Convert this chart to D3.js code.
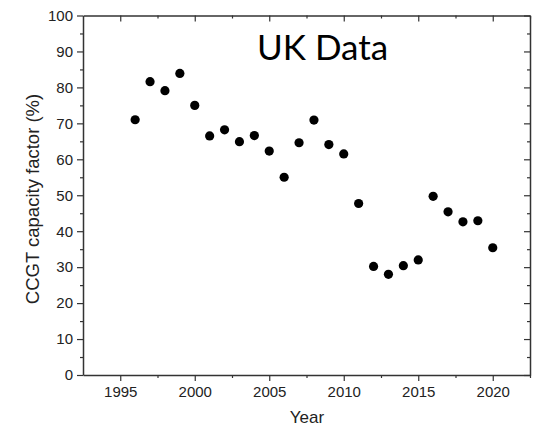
<!DOCTYPE html>
<html><head><meta charset="utf-8">
<script src="https://cdn.jsdelivr.net/npm/d3@7"></script>
<style>body{margin:0;background:#fff}svg{display:block}</style>
</head><body>
<script>
const years = [1996,1997,1998,1999,2000,2001,2002,2003,2004,2005,2006,2007,2008,2009,2010,2011,2012,2013,2014,2015,2016,2017,2018,2019,2020];
const capacityFactor = [71.0,81.6,79.1,83.9,75.0,66.5,68.2,64.9,66.6,62.3,55.0,64.6,70.9,64.1,61.5,47.7,30.2,28.0,30.4,32.0,49.7,45.4,42.6,42.9,35.4];
const xTicks = [1995,2000,2005,2010,2015,2020];
const yTicks = [0,10,20,30,40,50,60,70,80,90,100];

const W=544,H=428;
const m={left:83,top:15.5,right:530,bottom:375};
const svg=d3.select("body").append("svg").attr("width",W).attr("height",H);
const x=d3.scaleLinear().domain([1992.5,2022.5]).range([m.left,m.right]);
const y=d3.scaleLinear().domain([0,100]).range([m.bottom,m.top]);
const col="#333";
const font="'Liberation Sans', Arial, sans-serif";

const xMinor=d3.range(1995,2023,2.5).filter(v=>!xTicks.includes(v));
const yMinor=d3.range(5,100,10);

function style(g){
  g.select(".domain").attr("stroke",col).attr("stroke-width",1.5);
  g.selectAll(".tick line").attr("stroke",col).attr("stroke-width",1.2);
  g.selectAll("text").attr("font-family",font).attr("font-size","15px").attr("fill","#222");
}
function minor(g){g.select(".domain").remove();g.selectAll("line").attr("stroke",col).attr("stroke-width",1.2);}
// bottom
style(svg.append("g").attr("transform",`translate(0,${m.bottom})`)
  .call(d3.axisBottom(x).tickValues(xTicks).tickFormat(d3.format("d")).tickSize(6).tickPadding(5).tickSizeOuter(0)));
svg.append("g").attr("transform",`translate(0,${m.bottom})`)
  .call(d3.axisBottom(x).tickValues(xMinor).tickFormat("").tickSize(3).tickSizeOuter(0)).call(minor);
// top
style(svg.append("g").attr("transform",`translate(0,${m.top})`)
  .call(d3.axisBottom(x).tickValues(xTicks).tickFormat("").tickSize(6).tickSizeOuter(0)));
svg.append("g").attr("transform",`translate(0,${m.top})`)
  .call(d3.axisBottom(x).tickValues(xMinor).tickFormat("").tickSize(3).tickSizeOuter(0)).call(minor);
// left
style(svg.append("g").attr("transform",`translate(${m.left},0)`)
  .call(d3.axisLeft(y).tickValues(yTicks).tickSize(6).tickPadding(4).tickSizeOuter(0)));
svg.append("g").attr("transform",`translate(${m.left},0)`)
  .call(d3.axisLeft(y).tickValues(yMinor).tickFormat("").tickSize(3).tickSizeOuter(0)).call(minor);
// right
style(svg.append("g").attr("transform",`translate(${m.right},0)`)
  .call(d3.axisLeft(y).tickValues(yTicks).tickFormat("").tickSize(6).tickSizeOuter(0)));
svg.append("g").attr("transform",`translate(${m.right},0)`)
  .call(d3.axisLeft(y).tickValues(yMinor).tickFormat("").tickSize(3).tickSizeOuter(0)).call(minor);

svg.append("g").selectAll("circle").data(years).join("circle")
  .attr("cx",(d)=>x(d)).attr("cy",(d,i)=>y(capacityFactor[i])).attr("r",4.6).attr("fill","#000");

svg.append("text").attr("x",307).attr("y",423).attr("text-anchor","middle")
  .attr("font-family",font).attr("font-size","17px").attr("fill","#222").text("Year");
svg.append("text").attr("transform",`translate(39,199) rotate(-90)`).attr("text-anchor","middle")
  .attr("font-family",font).attr("font-size","18.5px").attr("fill","#222").text("CCGT capacity factor (%)");
svg.append("text").attr("x",257).attr("y",60).attr("font-family","Lato, 'Open Sans', sans-serif")
  .attr("font-size","35px").attr("fill","#000").text("UK Data");
</script>
</body></html>
